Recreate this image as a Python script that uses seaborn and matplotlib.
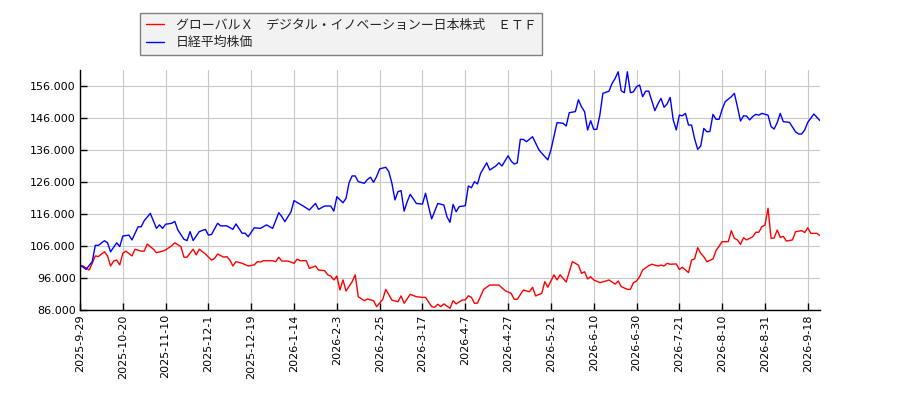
import numpy as np
import pandas as pd
import matplotlib
matplotlib.use("Agg")
import matplotlib.pyplot as plt
import matplotlib.ticker as mticker
import seaborn as sns

# ===============================
# データ（取引日インデックス, 値）
# ===============================
etf_name = "グローバルＸ　デジタル・イノベーションー日本株式　ＥＴＦ"
nikkei_name = "日経平均株価"

tick_labels = ["2025-9-29", "2025-10-20", "2025-11-10", "2025-12-1", "2025-12-19",
               "2026-1-14", "2026-2-3", "2026-2-25", "2026-3-17", "2026-4-7",
               "2026-4-27", "2026-5-21", "2026-6-10", "2026-6-30", "2026-7-21",
               "2026-8-10", "2026-8-31", "2026-9-18"]
tick_step = 14       # 14営業日ごと
last_day = 242

etf_days = [0, 1, 3, 4, 5, 6, 8, 9, 10, 11, 12, 13, 14, 15, 17, 18, 20, 21, 22, 24,
            25, 27, 28, 30, 31, 33, 34, 35, 37, 38, 39, 41, 43, 44, 45, 47, 48, 49, 50, 51,
            53, 55, 57, 58, 59, 60, 63, 64, 65, 66, 68, 70, 71, 72, 74, 75, 77, 78, 80, 81,
            82, 83, 84, 85, 86, 87, 89, 90, 91, 93, 94, 96, 97, 99, 100, 102, 104, 105, 106, 108,
            110, 112, 113, 115, 116, 117, 118, 119, 121, 122, 123, 125, 126, 127, 128, 129, 130, 132, 134, 137,
            139, 141, 142, 143, 145, 147, 148, 149, 151, 152, 153, 155, 156, 157, 159, 160, 161, 162, 163, 164,
            165, 166, 167, 168, 170, 172, 173, 175, 176, 177, 179, 180, 181, 182, 183, 184, 186, 187, 189, 190,
            191, 192, 193, 195, 196, 197, 199, 200, 201, 202, 203, 204, 205, 207, 208, 210, 212, 213, 214, 215,
            216, 217, 218, 220, 221, 222, 223, 224, 225, 226, 227, 228, 229, 230, 231, 233, 234, 236, 237, 238,
            239, 241, 242]
etf_vals = [100000, 99750, 98500, 100600, 102900, 102700, 104200, 102900, 99750, 101300,
            101600, 100100, 103700, 104400, 102900, 105000, 104400, 104400, 106600, 105000,
            103900, 104400, 104750, 106100, 107000, 105800, 102500, 102500, 105000, 103200,
            105000, 103500, 101600, 102100, 103500, 102500, 102700, 101600, 99750, 101100,
            100600, 99750, 100100, 101100, 101000, 101400, 101400, 101100, 102500, 101300,
            101300, 100600, 101900, 101400, 101400, 99000, 99750, 98500, 98300, 97000,
            96600, 95400, 96600, 92250, 95400, 91950, 94850, 97000, 90150, 88900,
            89450, 88900, 87050, 89300, 92450, 89100, 88600, 90400, 88100, 90900,
            90150, 89950, 89950, 87050, 86850, 87800, 87050, 87900, 86550, 88900,
            87900, 89100, 89150, 90450, 89950, 88100, 88150, 92450, 93800, 93800,
            92050, 91200, 89350, 89350, 92250, 91700, 93100, 90400, 91200, 94850,
            93100, 97000, 95400, 97000, 94750, 97950, 101100, 100600, 100000, 97450,
            97950, 95700, 96400, 95400, 94550, 95050, 95400, 94100, 95050, 93300,
            92450, 92450, 94550, 95050, 96400, 98500, 99850, 100300, 99750, 100050,
            99750, 100600, 100300, 100400, 98700, 99350, 97700, 101600, 102000, 105500,
            103700, 102650, 101100, 101950, 104550, 107350, 107350, 110800, 108400, 107900,
            106500, 108600, 107900, 108900, 110300, 110300, 112050, 112500, 117800, 108400,
            108500, 111000, 108700, 109000, 107550, 107900, 110450, 110800, 110200, 111700,
            109950, 109950, 109250]

nikkei_days = [0, 1, 2, 4, 5, 6, 8, 9, 10, 12, 13, 14, 16, 17, 19, 20, 21, 23, 25, 26,
               27, 28, 30, 31, 32, 34, 35, 36, 37, 39, 41, 42, 43, 45, 46, 48, 50, 51, 53, 54,
               55, 57, 59, 61, 63, 65, 66, 67, 69, 70, 71, 73, 75, 77, 78, 80, 82, 83, 84, 86,
               87, 88, 89, 90, 91, 93, 94, 95, 96, 97, 98, 100, 101, 102, 103, 104, 105, 106, 107, 108,
               110, 112, 113, 114, 115, 117, 119, 120, 121, 122, 123, 124, 126, 127, 128, 129, 130, 131, 133, 134,
               136, 137, 138, 140, 141, 142, 143, 144, 145, 146, 148, 150, 151, 153, 154, 156, 158, 159, 160, 162,
               163, 164, 165, 166, 167, 168, 169, 170, 171, 173, 174, 175, 176, 177, 178, 179, 180, 181, 182, 183,
               184, 185, 186, 188, 189, 190, 191, 192, 193, 194, 195, 196, 197, 198, 199, 200, 201, 202, 203, 204,
               205, 206, 207, 208, 209, 210, 211, 213, 214, 215, 216, 217, 218, 219, 220, 221, 222, 223, 224, 225,
               226, 227, 228, 229, 230, 232, 234, 235, 236, 237, 238, 240, 242]
nikkei_vals = [100000, 99400, 98700, 101100, 106200, 106200, 107650, 107000, 104200, 107000,
               105800, 109100, 109400, 107900, 112000, 112000, 113900, 116200, 111500, 112600,
               111500, 112800, 113100, 113700, 111000, 108100, 107700, 110500, 107700, 110500,
               111200, 109400, 109600, 113100, 112300, 112300, 111200, 112900, 110000, 110000,
               108900, 111700, 111500, 112600, 111500, 116400, 115200, 113600, 116700, 120200,
               119600, 118500, 117250, 119300, 117450, 118500, 118500, 116900, 121400, 119500,
               120900, 125800, 127900, 127900, 126100, 125600, 126800, 127500, 125900, 127700,
               130100, 130600, 129200, 125600, 120400, 123000, 123300, 116900, 119850, 122150,
               119300, 119100, 122500, 118300, 114450, 119300, 118800, 115150, 113400, 119000,
               116700, 118300, 118600, 124750, 124200, 126100, 125400, 128700, 132000, 129750,
               131000, 132000, 131000, 134200, 132550, 131600, 132000, 139350, 139300, 138600,
               140150, 136200, 135000, 132900, 136000, 144550, 144350, 143500, 147650, 148000,
               151700, 149500, 148000, 142250, 145150, 142450, 142450, 146900, 153700, 154400,
               156800, 158350, 160450, 154500, 153900, 160450, 153900, 154200, 155800, 156300,
               152650, 154400, 154400, 148300, 150400, 152150, 149350, 150400, 152450, 145400,
               142250, 146900, 146700, 147450, 143800, 143800, 139500, 136200, 137250, 142750,
               141700, 141800, 147150, 145600, 145600, 148700, 151100, 152650, 153700, 149500,
               145050, 146700, 146600, 145400, 146450, 147150, 146900, 147450, 147150, 146900,
               143300, 142550, 144550, 147450, 144850, 144650, 141700, 141000, 141000, 142250,
               144650, 147250, 145150]

etf = pd.DataFrame({"day": etf_days, "value": etf_vals})
nikkei = pd.DataFrame({"day": nikkei_days, "value": nikkei_vals})

# ===============================
# 描画
# ===============================
sns.set_style("whitegrid", {"grid.color": "#c8c8c8", "axes.edgecolor": "black"})
plt.rcParams["font.family"] = ["Noto Sans CJK JP", "DejaVu Sans"]

fig = plt.figure(figsize=(9, 4), dpi=100)
ax = fig.add_axes([80 / 900, 90 / 400, 740 / 900, 240 / 400])

sns.lineplot(data=etf, x="day", y="value", color="red", linewidth=1.0,
             label=etf_name, ax=ax)
sns.lineplot(data=nikkei, x="day", y="value", color="blue", linewidth=1.0,
             label=nikkei_name, ax=ax)

ax.set_xlim(0, last_day)
ax.set_ylim(86000, 161000)
ax.set_xticks(np.arange(len(tick_labels)) * tick_step)
ax.set_xticklabels(tick_labels, rotation=90, family="DejaVu Sans", fontsize=8)
ax.set_yticks(np.arange(86000, 156001, 10000))
ax.yaxis.set_major_formatter(mticker.FuncFormatter(lambda v, p: f"{int(v):,}".replace(",", ".")))
for t in ax.get_yticklabels():
    t.set_family("DejaVu Sans")
    t.set_fontsize(8)
ax.set_xlabel("")
ax.set_ylabel("")
ax.tick_params(direction="in", length=5, width=1, colors="black",
               bottom=True, left=True, pad=3)
ax.grid(True, color="#c8c8c8", linewidth=0.8)
for side in ["top", "right"]:
    ax.spines[side].set_visible(False)
for side in ["left", "bottom"]:
    ax.spines[side].set_color("black")
    ax.spines[side].set_linewidth(1.0)

ax.get_legend().remove()
leg = fig.legend(loc="upper left", bbox_to_anchor=(140 / 900, 1 - 13 / 400),
                 borderaxespad=0, fontsize=9.3, frameon=True, fancybox=False,
                 handlelength=1.4, borderpad=0.45, labelspacing=0.35, handletextpad=0.9)
leg.get_frame().set_facecolor("#f2f2f2")
leg.get_frame().set_edgecolor("#808080")
leg.get_frame().set_linewidth(1.0)
leg.get_frame().set_alpha(1)

fig.savefig("out.png", dpi=100)
